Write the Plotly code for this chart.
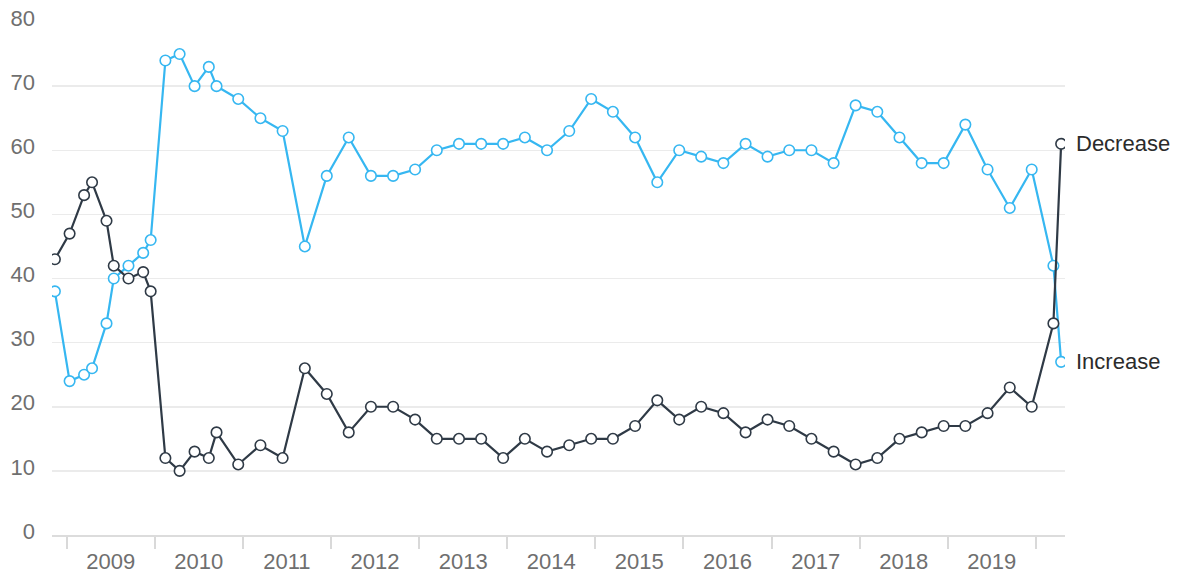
import plotly.graph_objects as go

dates = [
    "2008-11-13", "2009-01-13", "2009-03-14", "2009-04-16", "2009-06-15",
    "2009-07-15", "2009-09-14", "2009-11-14", "2009-12-15", "2010-02-14",
    "2010-04-14", "2010-06-15", "2010-08-13", "2010-09-14", "2010-12-13",
    "2011-03-15", "2011-06-15", "2011-09-15", "2011-12-15",
    "2012-03-15", "2012-06-15", "2012-09-15", "2012-12-15",
    "2013-03-15", "2013-06-15", "2013-09-15", "2013-12-15",
    "2014-03-15", "2014-06-15", "2014-09-15", "2014-12-15",
    "2015-03-15", "2015-06-15", "2015-09-15", "2015-12-15",
    "2016-03-15", "2016-06-15", "2016-09-15", "2016-12-15",
    "2017-03-15", "2017-06-15", "2017-09-15", "2017-12-15",
    "2018-03-15", "2018-06-15", "2018-09-15", "2018-12-15",
    "2019-03-15", "2019-06-15", "2019-09-15", "2019-12-15",
    "2020-03-14", "2020-04-15",
]

increase = [
    38, 24, 25, 26, 33, 40, 42, 44, 46, 74, 75, 70, 73, 70, 68,
    65, 63, 45, 56,
    62, 56, 56, 57,
    60, 61, 61, 61,
    62, 60, 63, 68,
    66, 62, 55, 60,
    59, 58, 61, 59,
    60, 60, 58, 67,
    66, 62, 58, 58,
    64, 57, 51, 57,
    42, 27,
]

decrease = [
    43, 47, 53, 55, 49, 42, 40, 41, 38, 12, 10, 13, 12, 16, 11,
    14, 12, 26, 22,
    16, 20, 20, 18,
    15, 15, 15, 12,
    15, 13, 14, 15,
    15, 17, 21, 18,
    20, 19, 16, 18,
    17, 15, 13, 11,
    12, 15, 16, 17,
    17, 19, 23, 20,
    33, 61,
]

series_names = ["Increase", "Decrease"]
y_ticks = [0, 10, 20, 30, 40, 50, 60, 70, 80]
x_range = ["2008-11-01", "2020-05-01"]

BLUE = "#36b7f1"
DARK = "#2f3a46"

fig = go.Figure()
for name, vals, col, xa in [(series_names[0], increase, BLUE, "x"),
                            (series_names[1], decrease, DARK, "x2")]:
    fig.add_trace(go.Scatter(
        x=dates, y=vals, name=name, mode="lines+markers", xaxis=xa, yaxis="y",
        line=dict(color=col, width=2.2),
        marker=dict(size=10.5, color="white", line=dict(color=col, width=1.6)),
        showlegend=False, hoverinfo="skip",
    ))
    fig.add_annotation(
        x=dates[-1], y=vals[-1], xref=xa, yref="y", text=name, showarrow=False,
        xanchor="left", yanchor="middle", xshift=13,
        font=dict(family="Liberation Sans", size=22, color="#2b2b2b"),
    )

fig.update_layout(
    width=1180, height=573,
    margin=dict(l=52, r=115, t=22, b=38, autoexpand=False),
    paper_bgcolor="white", plot_bgcolor="white",
    font=dict(family="Liberation Sans", size=22, color="#6f6f6f"),
    xaxis=dict(
        type="date", range=x_range,
        tick0="2009-01-01", dtick="M12",
        ticks="outside", ticklen=12, tickwidth=2, tickcolor="#d9d9d9",
        showticklabels=False,
        showgrid=False, showline=True, linecolor="#dcdcdc", linewidth=2,
        zeroline=False, automargin=False,
    ),
    xaxis2=dict(
        type="date", range=x_range, overlaying="x", side="bottom", anchor="y",
        tick0="2009-01-01", dtick="M12", tickformat="%Y", ticklabelmode="period",
        ticks="", ticklabelstandoff=11,
        showgrid=False, showline=False, zeroline=False, automargin=False,
    ),
    yaxis=dict(
        range=[0, 80], tickvals=y_ticks, showgrid=True, gridcolor="#ebebeb", gridwidth=1.5,
        zeroline=False, ticks="", ticklabelstandoff=16, ticklabelshift=-4,
        showline=False, automargin=False,
    ),
)

fig.write_html(
    "out.html",
    config={"displayModeBar": False, "staticPlot": True},
    post_script="document.body.style.margin='0';",
)
